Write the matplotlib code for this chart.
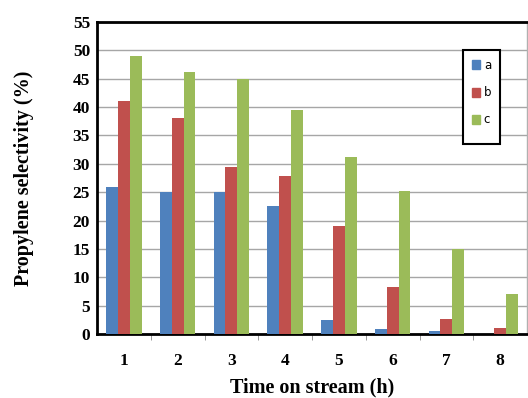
import matplotlib.pyplot as plt
from matplotlib.patches import Patch, Rectangle
import numpy as np

hours = ["1", "2", "3", "4", "5", "6", "7", "8"]
sel_a = [26.0, 25.0, 25.0, 22.5, 2.4, 0.8, 0.5, 0.0]
sel_b = [41.0, 38.0, 29.5, 27.8, 19.0, 8.2, 2.6, 1.1]
sel_c = [49.0, 46.2, 45.0, 39.5, 31.2, 25.2, 15.0, 7.0]
etykiety = ["a", "b", "c"]
kolory = ["#4F81BD", "#C0504D", "#9BBB59"]

fig = plt.figure(figsize=(5.28, 3.98), dpi=100)
ax = fig.add_axes([97/528, 64/398, 430/528, 312/398])

x = np.arange(len(hours))
w = 0.22
for i, dane in enumerate([sel_a, sel_b, sel_c]):
    ax.bar(x + (i - 1) * w, dane, w, color=kolory[i], zorder=3)

ax.set_xlim(-0.5, len(hours) - 0.5)
ax.set_ylim(0, 55)
ax.set_yticks(range(0, 56, 5))
ax.set_xticks(x)
ax.set_xticklabels(hours)
ax.set_xticks(np.arange(-0.5, len(hours), 1.0)[1:-1], minor=True)
ax.tick_params(axis="x", which="major", length=0, pad=14)
ax.tick_params(axis="x", which="minor", length=4, color="#888888", direction="out")
ax.tick_params(axis="y", length=0, pad=5)
for lab in ax.get_xticklabels() + ax.get_yticklabels():
    lab.set_fontfamily("Liberation Serif")
    lab.set_fontweight("bold")
    lab.set_fontsize(12.5)

ax.grid(axis="y", color="#a6a6a6", linewidth=1.0, zorder=0)
for s in ["left", "top", "bottom"]:
    ax.spines[s].set_linewidth(2.0)
    ax.spines[s].set_color("black")
ax.spines["right"].set_color("#b0b0b0")
ax.spines["right"].set_linewidth(1.0)

ax.set_xlabel("Time on stream (h)", fontfamily="Liberation Serif",
              fontweight="bold", fontsize=14.5, labelpad=6)
ax.set_ylabel("Propylene selectivity (%)", fontfamily="Liberation Serif",
              fontweight="bold", fontsize=14.5, labelpad=28)

# legenda bez ramki + ramka rysowana recznie (nierowne marginesy jak w oryginale)
uchwyty = [Patch(color=k, label=e) for k, e in zip(kolory, etykiety)]
leg = ax.legend(handles=uchwyty, loc="upper left",
                bbox_to_anchor=(472/528, (398-59)/398), bbox_transform=fig.transFigure,
                borderaxespad=0, borderpad=0, frameon=False,
                handlelength=0.7, handleheight=0.8, handletextpad=0.3,
                labelspacing=1.2, prop={"family": "DejaVu Sans", "size": 8.5})
leg.set_zorder(6)
ramka = Rectangle((463/528, (398-144)/398), 37/528, 94/398,
                  transform=fig.transFigure, facecolor="white",
                  edgecolor="black", linewidth=1.5, zorder=5, clip_on=False)
ax.add_patch(ramka)

plt.savefig("out.png", dpi=100)
